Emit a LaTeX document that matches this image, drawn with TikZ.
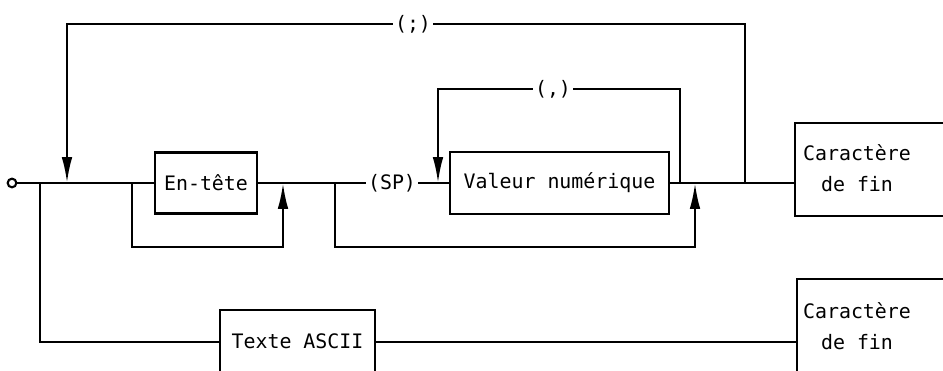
\documentclass[tikz,border=0pt]{standalone}
\usepackage{fontspec}
\setmonofont{DejaVu Sans Mono}
\usetikzlibrary{arrows.meta, positioning}

\begin{document}
\begin{tikzpicture}[x=0.03cm, y=-0.03cm, line width=2pt, >={Latex[length=22pt, width=9pt]},
    every node/.style={font=\ttfamily\fontsize{17}{26.5}\selectfont},
    box/.style={draw, inner sep=0pt},
    lbl/.style={inner sep=1pt}]
    \useasboundingbox (0,0) rectangle (943,371);
    \clip (0,0) rectangle (943,371);

    % Entry point
    \node[draw, circle, inner sep=0pt, minimum size=0.26cm, line width=1.8pt] (start) at (12,183) {};

    % Boxes of the upper path
    \node[box, minimum width=3.06cm, minimum height=1.83cm] (entete) at (206,183) {En-tête};
    \node[lbl] (sp) at (392,183) {(SP)};
    \node[box, minimum width=6.57cm, minimum height=1.86cm] (valeur) at (559.5,183) {Valeur numérique};
    \node[box, minimum width=4.95cm, minimum height=2.79cm] (fin1box) at (877.5,169.5) {};
    \node[align=center] (fin1) at (857,168) {Caractère\\de fin};

    % Boxes of the lower path
    \node[box, minimum width=4.65cm, minimum height=2.7cm] (asciibox) at (297.5,355) {};
    \node (ascii) at (297.5,341) {Texte ASCII};
    \node[box, minimum width=4.89cm, minimum height=3.63cm] (fin2box) at (878.5,339.5) {};
    \node[align=center] (fin2) at (857,326) {Caractère\\de fin};

    % Loop labels
    \node[lbl] (semi) at (413,24) {(;)};
    \node[lbl] (comma) at (553,89) {(,)};

    % Junctions on the main line
    \coordinate (j1) at (40,183);
    \coordinate (j2) at (67,183);
    \coordinate (j3) at (132,183);
    \coordinate (j4) at (283,183);
    \coordinate (j5) at (335,183);
    \coordinate (j6) at (438,183);
    \coordinate (j7) at (680,183);
    \coordinate (j8) at (695,183);
    \coordinate (j9) at (745,183);
    \coordinate (b1) at (132,247);
    \coordinate (b2) at (335,247);
    \coordinate (low) at (40,342);

    % Main line
    \draw (start.east) -- (entete.west);
    \draw (entete.east) -- (sp.west);
    \draw (sp.east) -- (valeur.west);
    \draw (valeur.east) -- (fin1box.west |- valeur.east);

    % Loop back (;)
    \draw (j9) |- (semi.east);
    \draw[->] (semi.west) -| (j2);

    % Loop back (,)
    \draw (j7) |- (comma.east);
    \draw[->] (comma.west) -| (j6);

    % Bypasses
    \draw[->] (j3) -- (b1) -| (j4);
    \draw[->] (j5) -- (b2) -| (j8);

    % Lower path
    \draw (j1) -- (low) -- (asciibox.west |- low);
    \draw (asciibox.east |- low) -- (fin2box.west |- low);
\end{tikzpicture}
\end{document}
